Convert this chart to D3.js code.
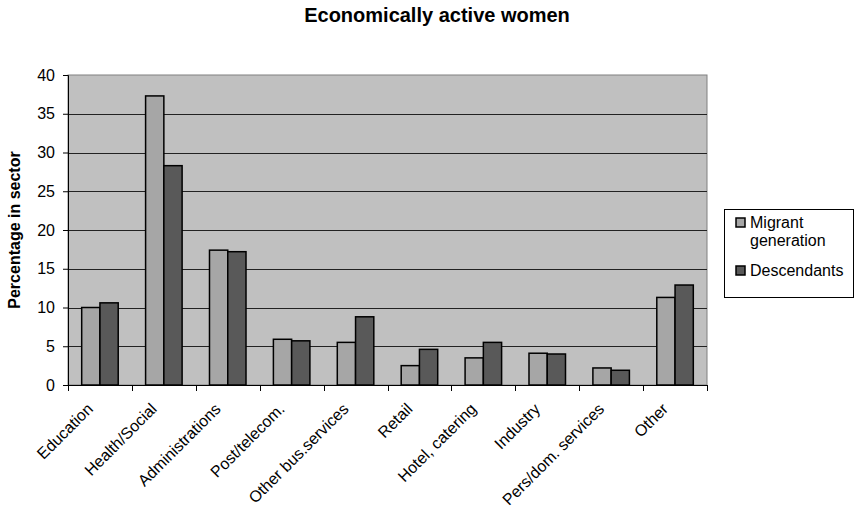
<!DOCTYPE html>
<html>
<head>
<meta charset="utf-8">
<script src="https://cdn.jsdelivr.net/npm/d3@7"></script>
<style>
  html, body { margin: 0; padding: 0; background: #fff; }
  text { font-family: Arial, "Liberation Sans", sans-serif; }
</style>
</head>
<body>
<svg id="chart" width="856" height="514"></svg>
<script>
const categories = ["Education", "Health/Social", "Administrations", "Post/telecom.", "Other bus.services",
  "Retail", "Hotel, catering", "Industry", "Pers/dom. services", "Other"];
const seriesNames = ["Migrant generation", "Descendants"];
const migrant = [10.0, 37.3, 17.4, 5.9, 5.5, 2.5, 3.5, 4.1, 2.2, 11.3];
const descendants = [10.6, 28.3, 17.2, 5.7, 8.8, 4.6, 5.5, 4.0, 1.9, 12.9];
const yTicks = [0, 5, 10, 15, 20, 25, 30, 35, 40];
const colors = ["#a6a6a6", "#595959"];

const svg = d3.select("#chart");
const L = 68, R = 707, T = 75, B = 385;

const x0 = d3.scaleBand().domain(categories).range([L, R]).padding(0);
const y = d3.scaleLinear().domain([0, 40]).range([B, T]);
const bw = x0.bandwidth() / 3.5;
const x1 = d3.scaleBand().domain(seriesNames).range([0, 2 * bw]).padding(0);

// plot background
svg.append("rect").attr("x", L).attr("y", T).attr("width", R - L).attr("height", B - T)
  .attr("fill", "#c0c0c0").attr("stroke", "#808080").attr("stroke-width", 1);

// gridlines
svg.append("g").selectAll("line").data(yTicks.filter(d => d > 0 && d < 40)).join("line")
  .attr("x1", L).attr("x2", R)
  .attr("y1", d => Math.round(y(d)) + 0.5).attr("y2", d => Math.round(y(d)) + 0.5)
  .attr("stroke", "#222").attr("stroke-width", 1);

// bars
const data = categories.map((c, i) => ({ c, vals: [migrant[i], descendants[i]] }));
const groups = svg.append("g").selectAll("g").data(data).join("g")
  .attr("transform", d => `translate(${x0(d.c) + (x0.bandwidth() - 2 * bw) / 2},0)`);
groups.selectAll("rect").data(d => d.vals.map((v, j) => ({ v, s: seriesNames[j], j }))).join("rect")
  .attr("x", d => x1(d.s))
  .attr("y", d => y(d.v))
  .attr("width", x1.bandwidth())
  .attr("height", d => y(0) - y(d.v))
  .attr("fill", d => colors[d.j])
  .attr("stroke", "#000").attr("stroke-width", 1.5);

// y axis
const yAxis = d3.axisLeft(y).tickValues(yTicks).tickSize(5).tickPadding(8).tickFormat(d3.format("d"));
const gy = svg.append("g").attr("transform", `translate(${L},0)`).call(yAxis);
gy.select(".domain").attr("stroke", "#000");
gy.selectAll("text").attr("font-size", 16).attr("fill", "#000")
  .attr("font-family", "Arial, 'Liberation Sans', sans-serif");

// x axis line + ticks at category boundaries
svg.append("line").attr("x1", L).attr("x2", R).attr("y1", B + 0.5).attr("y2", B + 0.5).attr("stroke", "#000");
const bounds = categories.map(c => x0(c)).concat([R]);
svg.append("g").selectAll("line").data(bounds).join("line")
  .attr("x1", d => Math.round(d) + 0.5).attr("x2", d => Math.round(d) + 0.5)
  .attr("y1", B).attr("y2", B + 6).attr("stroke", "#000");

// category labels
svg.append("g").selectAll("text").data(categories).join("text")
  .attr("transform", d => `translate(${x0(d) + x0.bandwidth() / 2 - 6},410) rotate(-45)`)
  .attr("text-anchor", "end")
  .attr("font-size", 16)
  .text(d => d);

// title
svg.append("text").attr("x", 437).attr("y", 22).attr("text-anchor", "middle")
  .attr("font-size", 20).attr("font-weight", "bold").text("Economically active women");

// y title
svg.append("text").attr("transform", `translate(20,${(T + B) / 2}) rotate(-90)`)
  .attr("text-anchor", "middle").attr("font-size", 16).attr("font-weight", "bold")
  .text("Percentage in sector");

// legend
const lg = svg.append("g");
lg.append("rect").attr("x", 724.5).attr("y", 209.5).attr("width", 129).attr("height", 88)
  .attr("fill", "#fff").attr("stroke", "#000");
const legendRows = [
  { name: seriesNames[0], lines: ["Migrant", "generation"], y: 218, color: colors[0] },
  { name: seriesNames[1], lines: ["Descendants"], y: 266, color: colors[1] }
];
legendRows.forEach(r => {
  lg.append("rect").attr("x", 736).attr("y", r.y).attr("width", 9).attr("height", 9)
    .attr("fill", r.color).attr("stroke", "#000").attr("stroke-width", 1.5);
  const t = lg.append("text").attr("x", 750).attr("y", r.y + 10).attr("font-size", 16);
  r.lines.forEach((ln, k) => t.append("tspan").attr("x", 750).attr("dy", k === 0 ? 0 : 18).text(ln));
});
</script>
</body>
</html>
